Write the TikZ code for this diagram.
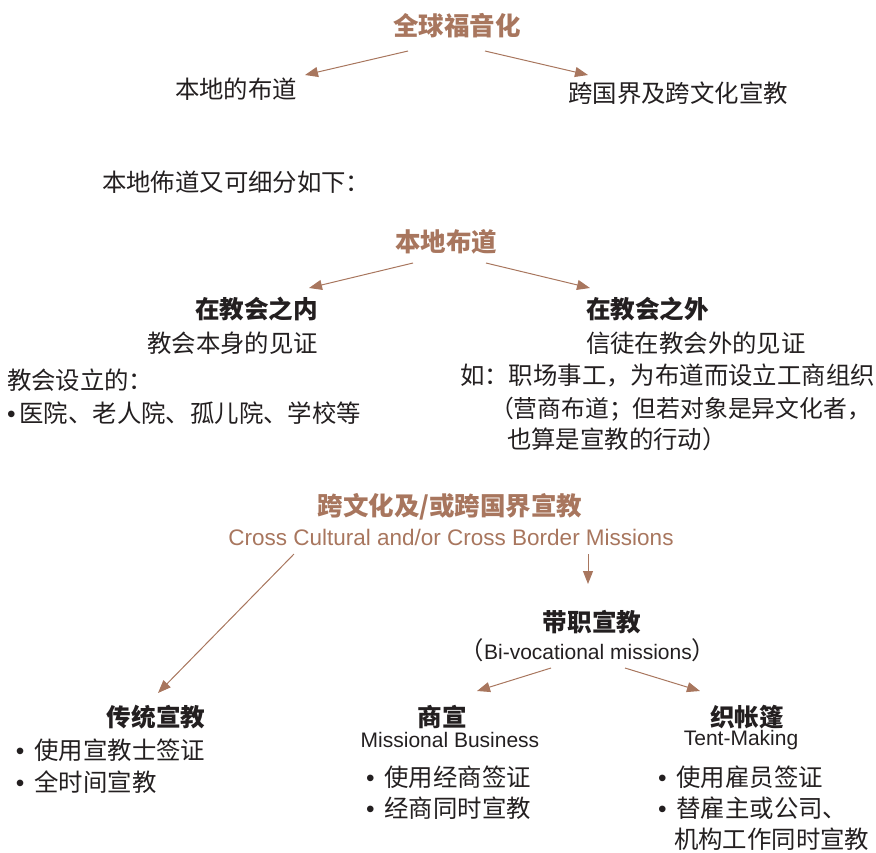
\documentclass[tikz,border=0pt]{standalone}
\usepackage{fontspec}
\setmainfont{Noto Sans CJK SC}
\newfontfamily\lib{Liberation Sans}
\usetikzlibrary{arrows.meta}
\definecolor{brn}{RGB}{168,118,94}
\definecolor{ink}{RGB}{35,31,32}
\newcommand{\bul}{{\lib •}\hspace{10pt}}
\begin{document}
\begin{tikzpicture}[x=1pt,y=-1pt,
  every node/.style={inner sep=0pt,outer sep=0pt,text=ink,font=\fontsize{24.4}{28}\selectfont},
  ttl/.style={font=\fontsize{24.6}{28}\selectfont\bfseries},
  bttl/.style={font=\fontsize{25.5}{28}\selectfont\bfseries,text=brn},
  en/.style={font=\lib\fontsize{21}{24}\selectfont},
  arr/.style={draw=brn,line width=1pt,-{Triangle[length=13pt,width=10pt]}}]
\useasboundingbox (0,0) rectangle (876,852);

% ---- section 1
\node[bttl] (g) at (457,26) {全球福音化};
\node (l1) at (236,89) {本地的布道};
\node (r1) at (678,93) {跨国界及跨文化宣教};
\coordinate (g1a) at (408,51); \coordinate (g1b) at (305,75);
\coordinate (g2a) at (485,51); \coordinate (g2b) at (588,75);
\draw[arr] (g1a) -- (g1b);
\draw[arr] (g2a) -- (g2b);

% ---- section 2
\node[anchor=west] (sub) at (102,182) {本地佈道又可细分如下：};
\node[bttl] (lb) at (446,242) {本地布道};
\coordinate (lba) at (413,263); \coordinate (lbb) at (309,288);
\coordinate (lbc) at (486,263); \coordinate (lbd) at (590,288);
\draw[arr] (lba) -- (lbb);
\draw[arr] (lbc) -- (lbd);

\node[ttl,anchor=east] (in) at (318,309) {在教会之内};
\node[anchor=east] (in1) at (318,343) {教会本身的见证};
\node[anchor=west] (in2) at (7,380) {教会设立的：};
\node[anchor=west] (in3) at (7,413) {{\lib •}\hspace{4pt}医院、老人院、孤儿院、学校等};

\node[ttl,anchor=west] (out) at (586,309) {在教会之外};
\node[anchor=west] (out1) at (586,343) {信徒在教会外的见证};
\node[anchor=west] (out2) at (460,375) {如：职场事工，为布道而设立工商组织};
\node[anchor=west,font=\fontsize{23.8}{28}\selectfont] (out3) at (490,409) {（营商布道；但若对象是异文化者，};
\node[anchor=west] (out4) at (507,439) {也算是宣教的行动）};

% ---- section 3
\node[bttl] (cc) at (450,507) {跨文化及/或跨国界宣教};
\node[en,text=brn,font=\lib\fontsize{22.5}{26}\selectfont] (cce) at (451,537) {Cross Cultural and/or Cross Border Missions};
\coordinate (cca) at (294,554); \coordinate (ccb) at (158,693);
\coordinate (ccc) at (588,554); \coordinate (ccd) at (588,584);
\draw[arr] (cca) -- (ccb);
\draw[arr] (ccc) -- (ccd);

\node[ttl] (bv) at (592,622) {带职宣教};
\node (bve) at (588,650) {（{\lib\fontsize{21}{24}\selectfont Bi-vocational missions}）};
\coordinate (bva) at (551,668); \coordinate (bvb) at (477,691);
\coordinate (bvc) at (625,668); \coordinate (bvd) at (700,691);
\draw[arr] (bva) -- (bvb);
\draw[arr] (bvc) -- (bvd);

% ---- bottom
\node[ttl] (tr) at (156,717) {传统宣教};
\node[anchor=west] (tr1) at (16,750) {\bul 使用宣教士签证};
\node[anchor=west] (tr2) at (16,782) {\bul 全时间宣教};

\node[ttl] (mb) at (442,717) {商宣};
\node[en] (mbe) at (450,740) {Missional Business};
\node[anchor=west] (mb1) at (366,777) {\bul 使用经商签证};
\node[anchor=west] (mb2) at (366,808) {\bul 经商同时宣教};

\node[ttl] (tm) at (747,717) {织帐篷};
\node[en] (tme) at (741,740) {Tent-Making};
\node[anchor=west] (tm1) at (658,777) {\bul 使用雇员签证};
\node[anchor=west] (tm2) at (658,808) {\bul 替雇主或公司、};
\node[anchor=west] (tm3) at (674,839) {机构工作同时宣教};
\end{tikzpicture}
\end{document}
